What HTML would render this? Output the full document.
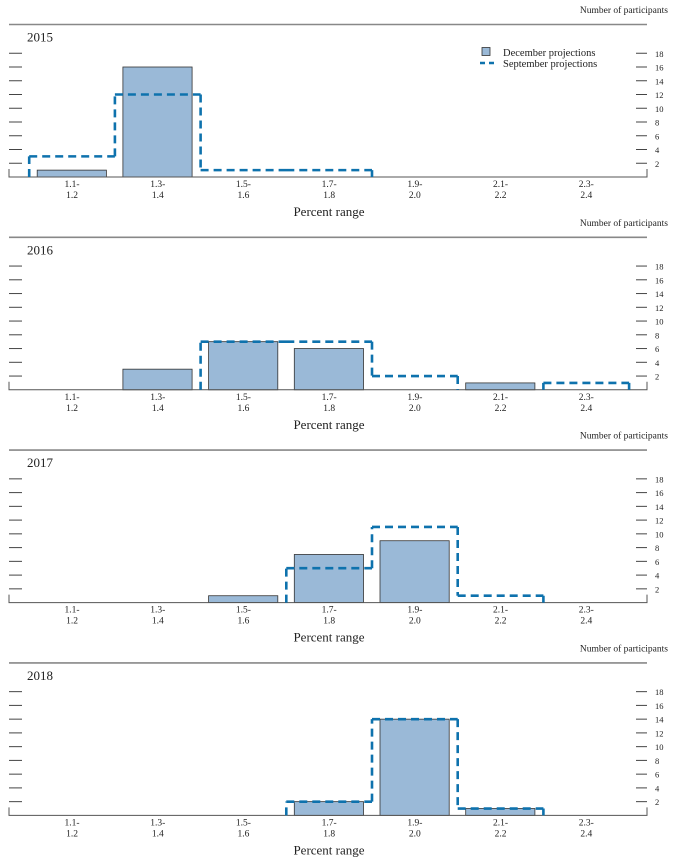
<!DOCTYPE html>
<html><head><meta charset="utf-8"><style>
body{margin:0;background:#fff;width:674px;height:858px;overflow:hidden}
svg text{font-family:"Liberation Serif",serif;fill:#222}
</style></head><body>
<svg id="c" width="674" height="858" viewBox="0 0 674 858"></svg>
<script>
const categories=[["1.1-","1.2"],["1.3-","1.4"],["1.5-","1.6"],["1.7-","1.8"],["1.9-","2.0"],["2.1-","2.2"],["2.3-","2.4"]];
const years=["2015","2016","2017","2018"];
const decVals=[[1,16,0,0,0,0,0],[0,3,7,6,0,1,0],[0,0,1,7,9,0,0],[0,0,0,2,14,1,0]];
const sepVals=[[3,12,1,1,0,0,0],[0,0,7,7,2,0,1],[0,0,0,5,11,1,0],[0,0,0,2,14,1,0]];
const yTicks=[2,4,6,8,10,12,14,16,18];

const NS="http://www.w3.org/2000/svg";
const svg=document.getElementById('c');
function mk(tag,attrs,parent,text){const e=document.createElementNS(NS,tag);for(const k in attrs)e.setAttribute(k,attrs[k]);if(text!==undefined)e.textContent=text;(parent||svg).appendChild(e);return e;}
const X0=29.2,BW=85.7,L=9,R=647,UNIT=6.875;
function xEdge(i){return X0+i*BW;}
function xMid(i){return X0+(i+0.5)*BW;}

years.forEach((yr,p)=>{
  const top=24.5+p*212.8, base=top+152.5;
  const yv=v=>base-v*UNIT;
  const g=mk('g',{});
  
  
  const t=mk('text',{x:668,y:top-11.5,'font-size':9.5,'text-anchor':'end'},g,'Number of participants');
  
  const r=mk('line',{x1:L,x2:R,y1:top,y2:top,stroke:'#888','stroke-width':1.6},g);
  
  const yt=mk('text',{x:27,y:top+17,'font-size':13},g,yr);
  
  yTicks.forEach(v=>{
    const y=yv(v);
    const a=mk('line',{x1:L,x2:L+13,y1:y,y2:y,stroke:'#444','stroke-width':1},g);
    
    const b=mk('line',{x1:R-11,x2:R,y1:y,y2:y,stroke:'#444','stroke-width':1},g);
    
    const l=mk('text',{x:655,y:y+3.5,'font-size':8.5},g,String(v));
    
  });
  decVals[p].forEach((v,i)=>{
    if(v<=0)return;
    const b=mk('rect',{x:xEdge(i)+8,y:yv(v),width:BW-16.5,height:v*UNIT,fill:'#9ab9d7',stroke:'#333','stroke-width':0.8},g);
    
  });
  const ax=mk('path',{d:`M${L},${base-8}V${base}H${R}V${base-8}`,fill:'none',stroke:'#555','stroke-width':1},g);
  
  // september step outline, skipping zero-height segments
  const s=sepVals[p];let d='';
  for(let i=0;i<s.length;i++){
    const prev=i>0?s[i-1]:0;
    if(s[i]!==prev) d+=`M${xEdge(i)},${yv(prev)}V${yv(s[i])}`;
    if(s[i]>0) d+=`M${xEdge(i)},${yv(s[i])}H${xEdge(i+1)}`;
  }
  const lastV=s[s.length-1];
  if(lastV>0) d+=`M${xEdge(s.length)},${yv(lastV)}V${base}`;
  const sp=mk('path',{d:d,fill:'none',stroke:'#0e72ad','stroke-width':2.6,'stroke-dasharray':'8,5'},g);
  
  categories.forEach((c,i)=>{
    const a=mk('text',{x:xMid(i),y:base+10,'font-size':9.5,'text-anchor':'middle'},g,c[0]);
    
    const b=mk('text',{x:xMid(i),y:base+21,'font-size':9.5,'text-anchor':'middle'},g,c[1]);
    
  });
  const pr=mk('text',{x:329,y:base+39,'font-size':13,'text-anchor':'middle'},g,'Percent range');
  
});
const lg=mk('g',{});

const ls=mk('rect',{x:482,y:47.5,width:8,height:8,fill:'#9ab9d7',stroke:'#333','stroke-width':0.8},lg);

const lt1=mk('text',{x:503,y:56,'font-size':10.5},lg,'December projections');

const ll=mk('line',{x1:480,x2:497,y1:63,y2:63,stroke:'#0e72ad','stroke-width':2.6,'stroke-dasharray':'5,4'},lg);

const lt2=mk('text',{x:503,y:67,'font-size':10.5},lg,'September projections');

</script>
</body></html>
